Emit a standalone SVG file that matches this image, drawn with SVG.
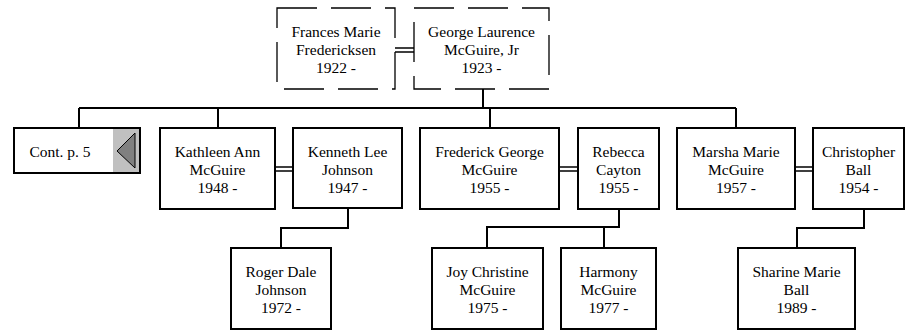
<svg xmlns="http://www.w3.org/2000/svg" width="906" height="331" viewBox="0 0 906 331">
<style>
.box{fill:#fff;stroke:#000;stroke-width:2}
.dbox{fill:#fff;stroke:#000;stroke-width:1.3;stroke-dasharray:40 14}
.c{fill:none;stroke:#000;stroke-width:2}
.m{fill:none;stroke:#000;stroke-width:1.5}
</style>
<rect width="906" height="331" fill="#fff"/>
<g id="connectors">
<path class="c" d="M483,89V108M79,108H736M79,108V128M218,108V128M490,108V128M736,108V128"/>
<path class="c" d="M348,208V228H281V248"/>
<path class="c" d="M619,209V227H487V248M604,227V248"/>
<path class="c" d="M864,209V228H797V248"/>
<path class="m" d="M395,48H414M395,52H414"/>
<path class="m" d="M275,167H293M275,171H293"/>
<path class="m" d="M559,167H578M559,171H578"/>
<path class="m" d="M795,167H813M795,171H813"/>
</g>
<g font-family="Liberation Serif, Tinos, Times New Roman, DejaVu Serif, serif" font-size="15.5" text-anchor="middle" fill="#000">
<g id="frances">
<rect class="dbox" x="277" y="8" width="118" height="81"/>
<text x="336" y="37">Frances Marie</text>
<text x="336" y="55">Fredericksen</text>
<text x="336" y="73">1922 -</text>
</g>
<g id="george">
<rect class="dbox" x="414" y="8" width="135" height="81"/>
<text x="481.5" y="37">George Laurence</text>
<text x="481.5" y="55">McGuire, Jr</text>
<text x="481.5" y="73">1923 -</text>
</g>
<g id="cont">
<rect class="box" x="14" y="128" width="126" height="45"/>
<rect x="113" y="129" width="26" height="43" fill="#c0c0c0"/>
<polygon points="117,151 135,133 135,168" fill="#808080" stroke="#000" stroke-width="1"/>
<text x="60" y="157">Cont. p. 5</text>
</g>
<g id="kathleen">
<rect class="box" x="160" y="128" width="115" height="81"/>
<text x="217.5" y="157">Kathleen Ann</text>
<text x="217.5" y="175">McGuire</text>
<text x="217.5" y="193">1948 -</text>
</g>
<g id="kenneth">
<rect class="box" x="293" y="128" width="109" height="80"/>
<text x="347.5" y="157">Kenneth Lee</text>
<text x="347.5" y="175">Johnson</text>
<text x="347.5" y="193">1947 -</text>
</g>
<g id="frederick">
<rect class="box" x="420" y="128" width="139" height="81"/>
<text x="489.5" y="157">Frederick George</text>
<text x="489.5" y="175">McGuire</text>
<text x="489.5" y="193">1955 -</text>
</g>
<g id="rebecca">
<rect class="box" x="578" y="128" width="81" height="81"/>
<text x="618.5" y="157">Rebecca</text>
<text x="618.5" y="175">Cayton</text>
<text x="618.5" y="193">1955 -</text>
</g>
<g id="marsha">
<rect class="box" x="677" y="128" width="118" height="81"/>
<text x="736" y="157">Marsha Marie</text>
<text x="736" y="175">McGuire</text>
<text x="736" y="193">1957 -</text>
</g>
<g id="christopher">
<rect class="box" x="813" y="128" width="91" height="81"/>
<text x="858.5" y="157">Christopher</text>
<text x="858.5" y="175">Ball</text>
<text x="858.5" y="193">1954 -</text>
</g>
<g id="roger">
<rect class="box" x="231" y="248" width="100" height="81"/>
<text x="281" y="277">Roger Dale</text>
<text x="281" y="295">Johnson</text>
<text x="281" y="313">1972 -</text>
</g>
<g id="joy">
<rect class="box" x="432" y="248" width="111" height="81"/>
<text x="487.5" y="277">Joy Christine</text>
<text x="487.5" y="295">McGuire</text>
<text x="487.5" y="313">1975 -</text>
</g>
<g id="harmony">
<rect class="box" x="561" y="248" width="95" height="81"/>
<text x="608.5" y="277">Harmony</text>
<text x="608.5" y="295">McGuire</text>
<text x="608.5" y="313">1977 -</text>
</g>
<g id="sharine">
<rect class="box" x="738" y="248" width="117" height="81"/>
<text x="796.5" y="277">Sharine Marie</text>
<text x="796.5" y="295">Ball</text>
<text x="796.5" y="313">1989 -</text>
</g>
</g>
</svg>
